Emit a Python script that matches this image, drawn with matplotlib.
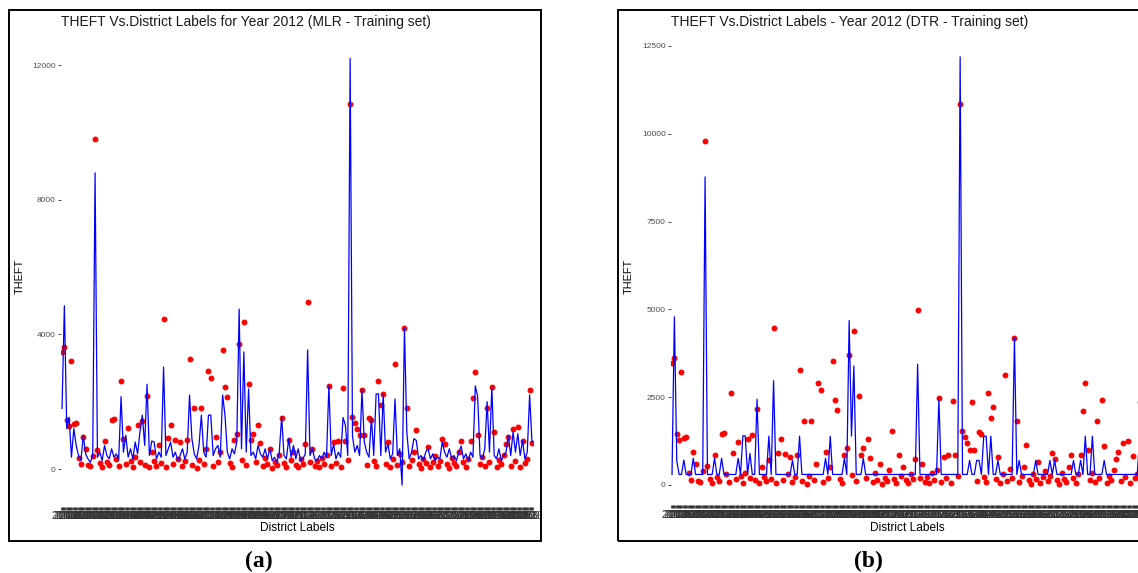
import matplotlib
matplotlib.use("Agg")
import matplotlib.pyplot as plt
from matplotlib.patches import Rectangle

# ---------------- data ----------------
actual_theft = [
    3480, 3630, 1460, 1280, 3210, 1340, 1380, 330, 150, 950,
    600, 120, 80, 400, 9800, 550, 180, 60, 840, 220,
    110, 1450, 1490, 300, 90, 2620, 900, 160, 1230, 250,
    70, 350, 1300, 200, 1430, 130, 2170, 60, 500, 240,
    100, 700, 180, 4460, 50, 910, 1300, 140, 870, 300,
    800, 90, 230, 860, 3260, 120, 1820, 40, 260, 1820,
    150, 600, 2910, 2700, 80, 950, 210, 500, 3540, 2430,
    2130, 170, 60, 860, 1040, 3700, 280, 4380, 120, 2520,
    860, 1040, 200, 1300, 780, 90, 330, 150, 600, 40,
    210, 110, 420, 1530, 180, 70, 860, 260, 500, 130,
    60, 300, 160, 740, 4970, 200, 600, 90, 240, 50,
    330, 140, 420, 2470, 80, 800, 190, 840, 60, 2400,
    840, 270, 10850, 1540, 1380, 1200, 1010, 2350, 1010, 110,
    1510, 1450, 230, 80, 2620, 1900, 2230, 160, 800, 50,
    300, 3120, 120, 450, 200, 4190, 1820, 90, 260, 500,
    1150, 140, 30, 310, 180, 650, 70, 220, 400, 100,
    250, 900, 740, 150, 40, 330, 180, 90, 500, 840,
    210, 60, 300, 840, 2100, 2890, 1000, 140, 350, 80,
    1820, 200, 2430, 1100, 60, 270, 150, 420, 740, 950,
    100, 1200, 230, 1250, 50, 830, 190, 300, 2350, 780,
]

mlr_predicted = [
    1800, 4850, 1200, 1540, 350, 1200, 700, 400, 250, 1000,
    450, 300, 200, 400, 8800, 350, 500, 250, 700, 400,
    300, 600, 350, 450, 300, 2150, 500, 1000, 350, 600,
    300, 800, 450, 1100, 1600, 700, 2520, 400, 830, 800,
    300, 500, 350, 3030, 400, 600, 800, 350, 500, 250,
    400, 600, 300, 500, 2200, 900, 450, 300, 700, 1600,
    500, 350, 1600, 1600, 400, 600, 700, 350, 2200, 1600,
    500, 300, 600, 450, 800, 4750, 600, 3480, 500, 2380,
    400, 500, 300, 700, 450, 350, 600, 300, 600, 250,
    350, 200, 500, 1550, 400, 300, 900, 350, 700, 300,
    600, 250, 300, 450, 3540, 400, 600, 300, 250, 400,
    300, 500, 350, 2470, 400, 740, 300, 500, 350, 1530,
    1300, 400, 12200, 970, 500, 700, 400, 2350, 800, 500,
    350, 1520, 400, 2230, 2230, 400, 2230, 500, 750, 300,
    450, 2080, 400, 600, -480, 4190, 1100, 300, 500, 900,
    850, 300, 400, 250, 500, 600, 300, 450, 250, 350,
    300, 800, 500, 350, 600, 300, 400, 250, 500, 680,
    300, 450, 250, 500, 350, 2470, 2150, 400, 300, 600,
    2000, 500, 2430, 400, 300, 600, 250, 400, 500, 1000,
    400, 1100, 500, 1050, 400, 850, 300, 500, 2200, 800,
]

dtr_predicted = [
    300, 4790, 700, 300, 300, 710, 300, 300, 300, 760,
    300, 300, 300, 300, 8770, 300, 300, 300, 760, 300,
    300, 760, 300, 300, 300, 300, 300, 300, 760, 300,
    1400, 1400, 300, 900, 300, 300, 2440, 300, 300, 300,
    300, 1390, 300, 2970, 300, 300, 300, 300, 300, 300,
    300, 700, 300, 300, 1390, 300, 300, 300, 300, 300,
    300, 300, 300, 300, 300, 760, 300, 1390, 300, 300,
    300, 300, 300, 760, 300, 4680, 1390, 3390, 300, 300,
    300, 760, 300, 300, 300, 300, 300, 300, 300, 300,
    300, 300, 300, 300, 300, 300, 300, 300, 300, 300,
    300, 300, 300, 300, 3440, 300, 300, 300, 300, 300,
    300, 300, 300, 2440, 300, 300, 300, 300, 300, 300,
    300, 300, 12190, 300, 300, 300, 700, 300, 300, 700,
    700, 300, 1390, 1390, 300, 1390, 300, 300, 700, 300,
    300, 300, 300, 300, 300, 4180, 300, 700, 300, 300,
    300, 300, 300, 300, 700, 300, 300, 300, 300, 300,
    700, 300, 700, 300, 300, 300, 300, 300, 300, 300,
    700, 300, 300, 700, 300, 1390, 300, 300, 1390, 300,
    300, 300, 300, 700, 300, 300, 300, 300, 300, 300,
    300, 300, 300, 300, 300, 300, 300, 300, 1390, 300,
]

district_labels = [str(n) for n in range(2011, 2011 + len(actual_theft))]

ticks_a = [0, 4000, 8000, 12000]
ticks_b = [0, 2500, 5000, 7500, 10000, 12500]

title_a = "THEFT Vs.District Labels for Year 2012 (MLR - Training set)"
title_b = "THEFT Vs.District Labels - Year 2012 (DTR - Training set)"

# ---------------- figure ----------------
W, H = 1138, 573
fig = plt.figure(figsize=(W / 100, H / 100), dpi=100)
plt.rcParams['font.family'] = ['Liberation Sans', 'DejaVu Sans']


def fx(x):
    return x / W


def fy(y):
    return 1 - y / H


def rect(x0, y0, x1, y1):
    return [fx(x0), fy(y1), (x1 - x0) / W, (y1 - y0) / H]


panels = [
    dict(frame=(9, 10, 541, 541), axes=(60.6, 37.0, 533.4, 506.5),
         ylim=(-1114, 12834), ticks=ticks_a, pred=mlr_predicted,
         title=title_a, tag="(a)", tagx=259, ylabx=20),
    dict(frame=(618, 10, 1150, 541), axes=(670.6, 35.5, 1143.4, 505.3),
         ylim=(-578, 12798), ticks=ticks_b, pred=dtr_predicted,
         title=title_b, tag="(b)", tagx=868, ylabx=629),
]

n = len(actual_theft)
xs = list(range(n))

for p in panels:
    x0, y0, x1, y1 = p['frame']
    fig.add_artist(Rectangle((fx(x0), fy(y1)), (x1 - x0) / W, (y1 - y0) / H,
                             transform=fig.transFigure, fill=False,
                             lw=1.4, ec='black', zorder=10))
    ax = fig.add_axes(rect(*p['axes']))
    ax.set_facecolor('white')
    for s in ax.spines.values():
        s.set_visible(False)
    ax.scatter(xs, actual_theft, s=18, color='#FF0000', linewidths=0, zorder=2)
    ax.plot(xs, p['pred'], color='#0000FF', lw=0.9, zorder=3)
    ax.set_xlim(-0.6, n - 0.4)
    ax.set_ylim(*p['ylim'])
    ax.set_yticks(p['ticks'])
    ax.set_yticklabels([str(t) for t in p['ticks']], fontsize=6, color='#4D4D4D')
    ax.set_xticks(xs)
    ax.set_xticklabels(district_labels, fontsize=7, color='#333333')
    ax.tick_params(axis='y', length=2.3, width=0.6, color='#333333', pad=1.2)
    ax.tick_params(axis='x', length=2.0, width=1.9, color='#333333', pad=1.4)

    ax_x0, ax_y0, ax_x1, ax_y1 = p['axes']
    fig.text(fx(ax_x0 + 0.5), fy(22), p['title'], fontsize=10, ha='left',
             va='center', color='#1a1a1a')
    fig.text(fx(p['ylabx']), fy(276), "THEFT", fontsize=7.8, rotation=90,
             ha='center', va='center', color='black')
    fig.text(fx((ax_x0 + ax_x1) / 2), fy(528), "District Labels", fontsize=8.6,
             ha='center', va='center', color='black')
    fig.text(fx(p['tagx']), fy(561), p['tag'], fontsize=17, fontweight='bold',
             family=['Liberation Serif', 'DejaVu Serif'], ha='center',
             va='center', color='black')

fig.savefig("out.png", dpi=100)
